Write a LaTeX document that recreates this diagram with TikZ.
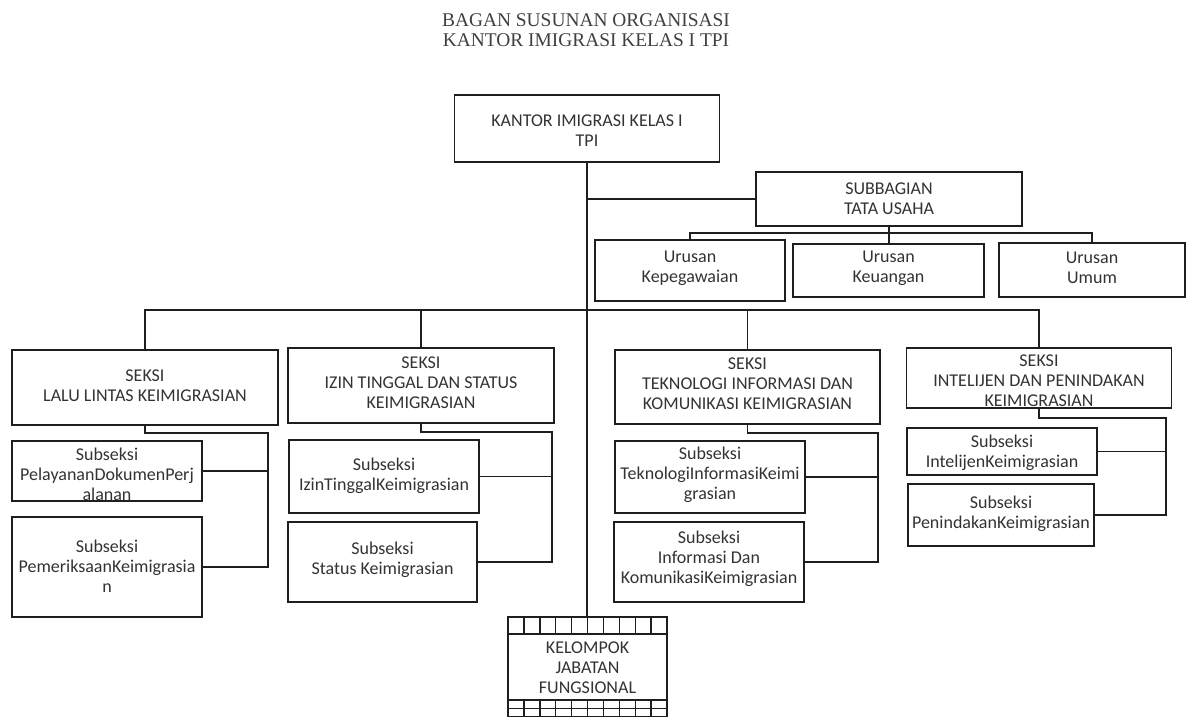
\documentclass[tikz,border=0pt]{standalone}
\usepackage{fontspec}
\newfontfamily\calfont{Carlito}
\newfontfamily\titlefont{Liberation Serif}
\definecolor{txtgray}{HTML}{333333}
\definecolor{titlegray}{HTML}{404040}
\definecolor{linegray}{HTML}{1E1E1E}
\begin{document}
\begin{tikzpicture}[x=1pt,y=-1pt,
  orgbox/.style={draw=linegray, line width=1.9pt, rectangle, inner sep=0pt, outer sep=0pt},
  orgtext/.style={font=\calfont\fontsize{18}{20}\selectfont, text=txtgray, align=center, inner sep=0pt},
  conn/.style={draw=linegray, line width=1.4pt},
  titletext/.style={font=\titlefont\fontsize{19.4}{20}\selectfont, text=titlegray, inner sep=0pt}
]
\useasboundingbox (0,0) rectangle (1187,717);
\clip (0,0) rectangle (1187,717);
\fill[white] (0,0) rectangle (1187,717);

% title
\node[titletext] (title1) at (586,20) {BAGAN SUSUNAN ORGANISASI};
\node[titletext] (title2) at (586,40) {KANTOR IMIGRASI KELAS I TPI};

% boxes
\node[orgbox, minimum width=265pt, minimum height=67pt] (top) at (587,128.5) {};
\node[orgbox, minimum width=266pt, minimum height=54pt] (sub) at (889,199) {};
\node[orgbox, minimum width=190pt, minimum height=61pt] (ur1) at (690,270.5) {};
\node[orgbox, minimum width=191pt, minimum height=53pt] (ur2) at (888.5,270.5) {};
\node[orgbox, minimum width=186pt, minimum height=54pt] (ur3) at (1092,270) {};
\node[orgbox, minimum width=266pt, minimum height=75pt] (s1) at (145,387.5) {};
\node[orgbox, minimum width=266pt, minimum height=75pt] (s2) at (421,385.5) {};
\node[orgbox, minimum width=265pt, minimum height=74pt] (s3) at (747.5,387) {};
\node[orgbox, minimum width=265pt, minimum height=60pt] (s4) at (1039,378) {};
\node[orgbox, minimum width=190pt, minimum height=60pt] (s1a) at (107,471) {};
\node[orgbox, minimum width=190pt, minimum height=100pt] (s1b) at (107,567) {};
\node[orgbox, minimum width=190pt, minimum height=73pt] (s2a) at (384,476.5) {};
\node[orgbox, minimum width=189pt, minimum height=80pt] (s2b) at (382.5,562) {};
\node[orgbox, minimum width=190pt, minimum height=72pt] (s3a) at (710,477) {};
\node[orgbox, minimum width=190pt, minimum height=80pt] (s3b) at (709,562) {};
\node[orgbox, minimum width=190pt, minimum height=47pt] (s4a) at (1002,451.5) {};
\node[orgbox, minimum width=186pt, minimum height=62pt] (s4b) at (1001,515) {};
\node[orgbox, minimum width=159pt, minimum height=100pt] (kjf) at (587.5,667) {};

% texts
\node[orgtext] (top-t) at ([yshift=-2pt]top.center) {KANTOR IMIGRASI KELAS I\\TPI};
\node[orgtext] (sub-t) at ([yshift=0pt]sub.center) {SUBBAGIAN\\TATA USAHA};
\node[orgtext] (ur1-t) at ([yshift=2pt]ur1.center) {Urusan\\Kepegawaian};
\node[orgtext] (ur2-t) at ([yshift=2pt]ur2.center) {Urusan\\Keuangan};
\node[orgtext] (ur3-t) at ([yshift=2pt]ur3.center) {Urusan\\Umum};
\node[orgtext] (s1-t) at ([yshift=2pt]s1.center) {SEKSI\\LALU LINTAS KEIMIGRASIAN};
\node[orgtext] (s2-t) at ([yshift=3pt]s2.center) {SEKSI\\IZIN TINGGAL DAN STATUS\\KEIMIGRASIAN};
\node[orgtext] (s3-t) at ([yshift=3pt]s3.center) {SEKSI\\TEKNOLOGI INFORMASI DAN\\KOMUNIKASI KEIMIGRASIAN};
\node[orgtext] (s4-t) at ([yshift=-3pt]s4.center) {SEKSI\\INTELIJEN DAN PENINDAKAN\\KEIMIGRASIAN};
\node[orgtext] (s1a-t) at ([yshift=-3pt]s1a.center) {Subseksi\\PelayananDokumenPerj\\alanan};
\node[orgtext] (s1b-t) at ([yshift=1pt]s1b.center) {Subseksi\\PemeriksaanKeimigrasia\\n};
\node[orgtext] (s2a-t) at ([yshift=1pt]s2a.center) {Subseksi\\IzinTinggalKeimigrasian};
\node[orgtext] (s2b-t) at ([yshift=2pt]s2b.center) {Subseksi\\Status Keimigrasian};
\node[orgtext] (s3a-t) at ([yshift=2pt]s3a.center) {Subseksi\\TeknologiInformasiKeimi\\grasian};
\node[orgtext] (s3b-t) at ([yshift=3pt]s3b.center) {Subseksi\\Informasi Dan\\KomunikasiKeimigrasian};
\node[orgtext] (s4a-t) at ([yshift=-1pt]s4a.center) {Subseksi\\IntelijenKeimigrasian};
\node[orgtext] (s4b-t) at ([yshift=1pt]s4b.center) {Subseksi\\PenindakanKeimigrasian};
\node[orgtext] (kjf-t) at ([yshift=-1pt]kjf.center) {KELOMPOK\\JABATAN\\FUNGSIONAL};

% kjf strips
\draw[conn] ([yshift=-17pt]kjf.north west) -- ([yshift=-17pt]kjf.north east);
\draw[conn] ([yshift=17pt]kjf.south west) -- ([yshift=17pt]kjf.south east);
\draw[conn, line width=1pt] ([yshift=8.5pt]kjf.south west) -- ([yshift=8.5pt]kjf.south east);
\foreach \i in {1,...,9} {
  \draw[conn] ([xshift=\i*15.9pt]kjf.north west) -- ++(0,17);
  \draw[conn] ([xshift=\i*15.9pt]kjf.south west) -- ++(0,-17);
}

% connectors
\coordinate (jsub) at (587,199);
\coordinate (jur) at (889,233);
\coordinate (bus) at (587,310);
\coordinate (g1) at (268,433);
\coordinate (g2) at (552,432);
\coordinate (g3) at (878,433);
\coordinate (g4) at (1166,418);

\draw[conn] (top.south) -- (top.south |- kjf.north);
\draw[conn] (jsub) -- (sub.west);
\draw[conn] (sub.south) -- (sub.south |- ur2.north);
\draw[conn] (ur1.north) -- (ur1.north |- jur) -- (ur3.north |- jur) -- (ur3.north);

\draw[conn] (s1.north) -- (s1.north |- bus) -- (s4.north |- bus) -- (s4.north);
\draw[conn] (s2.north) -- (s2.north |- bus);
\draw[conn] (s3.north) -- (s3.north |- bus);

\draw[conn] (s1.south) |- (g1) -- (g1 |- s1b.east) -- (s1b.east);
\draw[conn] (s1a.east) -- (g1 |- s1a.east);
\draw[conn] (s2.south) |- (g2) -- (g2 |- s2b.east) -- (s2b.east);
\draw[conn] (s2a.east) -- (g2 |- s2a.east);
\draw[conn] (s3.south) |- (g3) -- (g3 |- s3b.east) -- (s3b.east);
\draw[conn] (s3a.east) -- (g3 |- s3a.east);
\draw[conn] (s4.south) |- (g4) -- (g4 |- s4b.east) -- (s4b.east);
\draw[conn] (s4a.east) -- (g4 |- s4a.east);
\end{tikzpicture}
\end{document}
